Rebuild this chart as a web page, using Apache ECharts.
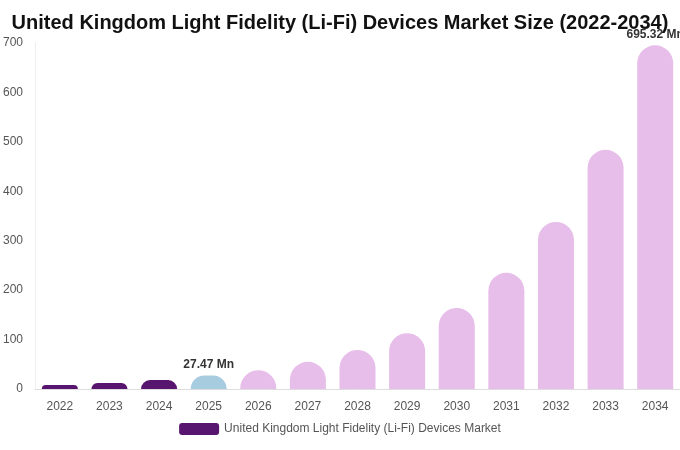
<!DOCTYPE html>
<html>
<head>
<meta charset="utf-8">
<script src="https://cdn.jsdelivr.net/npm/echarts@6/dist/echarts.min.js"></script>
<style>html,body{margin:0;padding:0;background:#fff}#chart{width:680px;height:450px}</style>
</head>
<body>
<div id="chart"></div>
<script>
const years = ['2022','2023','2024','2025','2026','2027','2028','2029','2030','2031','2032','2033','2034']
const marketSize = [8, 12, 18, 27.47, 38, 55, 79, 113, 164, 235, 338, 484, 695.32]
const labelled = ['2025', '2034']

const barColor = (year) => {
  if (year < '2025') return '#581570'
  if (year === '2025') return '#a7cbdf'
  return '#e7bde9'
}

const chart = echarts.init(document.getElementById('chart'))
chart.setOption({
  title: {
    text: 'United Kingdom Light Fidelity (Li-Fi) Devices Market Size (2022-2034)',
    left: 'center',
    top: 8,
    textStyle: { fontFamily: 'Liberation Sans', fontSize: 20, fontWeight: 'bold', color: '#111' }
  },
  legend: {
    bottom: 10,
    itemWidth: 40,
    itemHeight: 12,
    textStyle: { fontFamily: 'Liberation Sans', fontSize: 12, color: '#555' },
    data: [{ name: 'United Kingdom Light Fidelity (Li-Fi) Devices Market', itemStyle: { color: '#581570' } }]
  },
  grid: { left: 35, right: 0, top: 43, bottom: 61 },
  xAxis: {
    type: 'category',
    data: years,
    axisLine: { lineStyle: { color: '#ddd' } },
    axisTick: { show: false },
    axisLabel: { color: '#555', fontFamily: 'Liberation Sans', fontSize: 12, margin: 12 }
  },
  yAxis: {
    type: 'value',
    min: 0,
    max: 700,
    interval: 100,
    axisLine: { show: true, lineStyle: { color: '#eee' } },
    splitLine: { show: false },
    axisLabel: { color: '#555', fontFamily: 'Liberation Sans', fontSize: 12, margin: 12 }
  },
  series: [{
    name: 'United Kingdom Light Fidelity (Li-Fi) Devices Market',
    type: 'bar',
    barWidth: 36,
    data: marketSize.map((v, i) => ({
      value: v,
      itemStyle: { color: barColor(years[i]), borderRadius: [18, 18, 0, 0] },
      label: {
        show: labelled.includes(years[i]),
        position: 'top',
        formatter: '{c} Mn',
        fontFamily: 'Liberation Sans',
        fontWeight: 'bold',
        fontSize: 12,
        color: '#333'
      }
    }))
  }]
})
</script>
</body>
</html>
